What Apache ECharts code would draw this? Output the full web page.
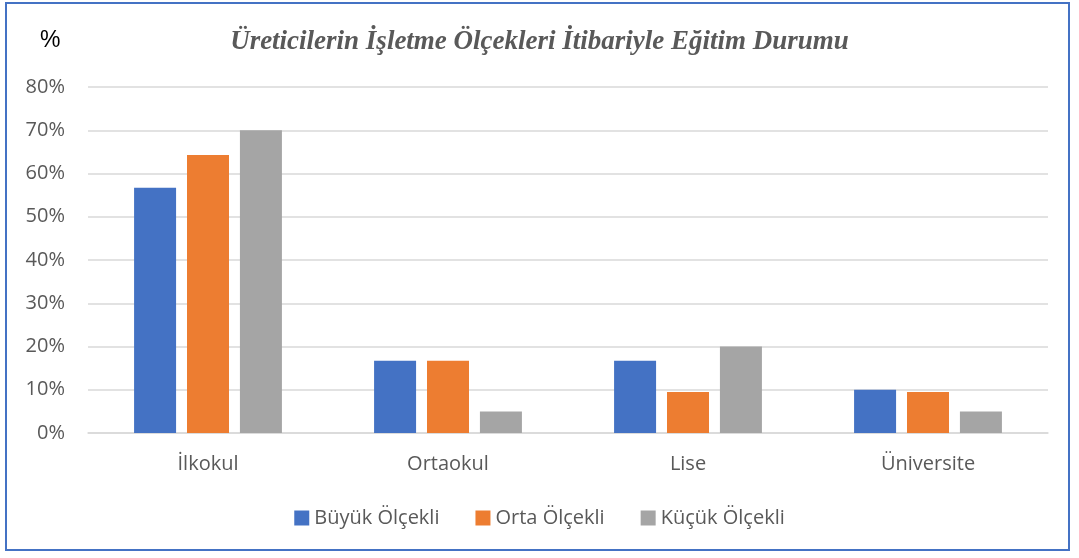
<!DOCTYPE html>
<html>
<head>
<meta charset="utf-8">
<script src="https://cdn.jsdelivr.net/npm/echarts@6/dist/echarts.min.js"></script>
<style>
  html, body { margin: 0; padding: 0; background: #fff; }
  #frame { position: absolute; left: 5px; top: 2px; width: 1065px; height: 549px; border: 2px solid #4472c4; box-sizing: border-box; }
  #chart { position: absolute; left: 0; top: 0; width: 1079px; height: 558px; }
</style>
</head>
<body>
<div id="frame"></div>
<div id="chart"></div>
<script>
// kategoriler ve seriler
const categories = ['İlkokul', 'Ortaokul', 'Lise', 'Üniversite']
const seriesNames = ['Büyük Ölçekli', 'Orta Ölçekli', 'Küçük Ölçekli']
const buyuk = [56.7, 16.7, 16.7, 10.0]
const orta = [64.3, 16.7, 9.5, 9.5]
const kucuk = [70.0, 5.0, 20.0, 5.0]
const colors = ['#4472c4', '#ed7d31', '#a5a5a5']

const chart = echarts.init(document.getElementById('chart'))

const labelFont = { color: '#595959', fontSize: 20, fontFamily: 'Open Sans, Noto Sans, sans-serif' }

chart.setOption({
  animation: false,
  color: colors,
  title: [
    {
      text: 'Üreticilerin İşletme Ölçekleri İtibariyle Eğitim Durumu',
      left: 'center',
      top: 24,
      textStyle: { color: '#595959', fontSize: 27, fontStyle: 'italic', fontWeight: 'bold', fontFamily: 'Liberation Serif, serif' }
    },
    {
      text: '%',
      left: 35,
      top: 24,
      textStyle: { color: '#000', fontSize: 23, fontWeight: 'normal', fontFamily: 'Liberation Sans, sans-serif' }
    }
  ],
  legend: {
    bottom: 25,
    left: 'center',
    itemWidth: 15,
    itemHeight: 15,
    itemGap: 36,
    icon: 'rect',
    textStyle: labelFont,
    data: seriesNames
  },
  grid: { left: 88, right: 31, top: 87, bottom: 125, containLabel: false },
  xAxis: {
    type: 'category',
    data: categories,
    axisLine: { lineStyle: { color: '#d9d9d9', width: 1.5 } },
    axisTick: { show: false },
    axisLabel: Object.assign({ margin: 21 }, labelFont)
  },
  yAxis: {
    type: 'value',
    min: 0,
    max: 80,
    interval: 10,
    axisLine: { show: false },
    axisTick: { show: false },
    splitLine: { lineStyle: { color: '#d9d9d9', width: 1.5 } },
    axisLabel: Object.assign({ margin: 23, formatter: '{value}%' }, labelFont)
  },
  series: [
    { name: seriesNames[0], type: 'bar', data: buyuk, barWidth: 42, barGap: '26%', barCategoryGap: '38%' },
    { name: seriesNames[1], type: 'bar', data: orta, barWidth: 42, barGap: '26%', barCategoryGap: '38%' },
    { name: seriesNames[2], type: 'bar', data: kucuk, barWidth: 42, barGap: '26%', barCategoryGap: '38%' }
  ]
})
</script>
</body>
</html>
